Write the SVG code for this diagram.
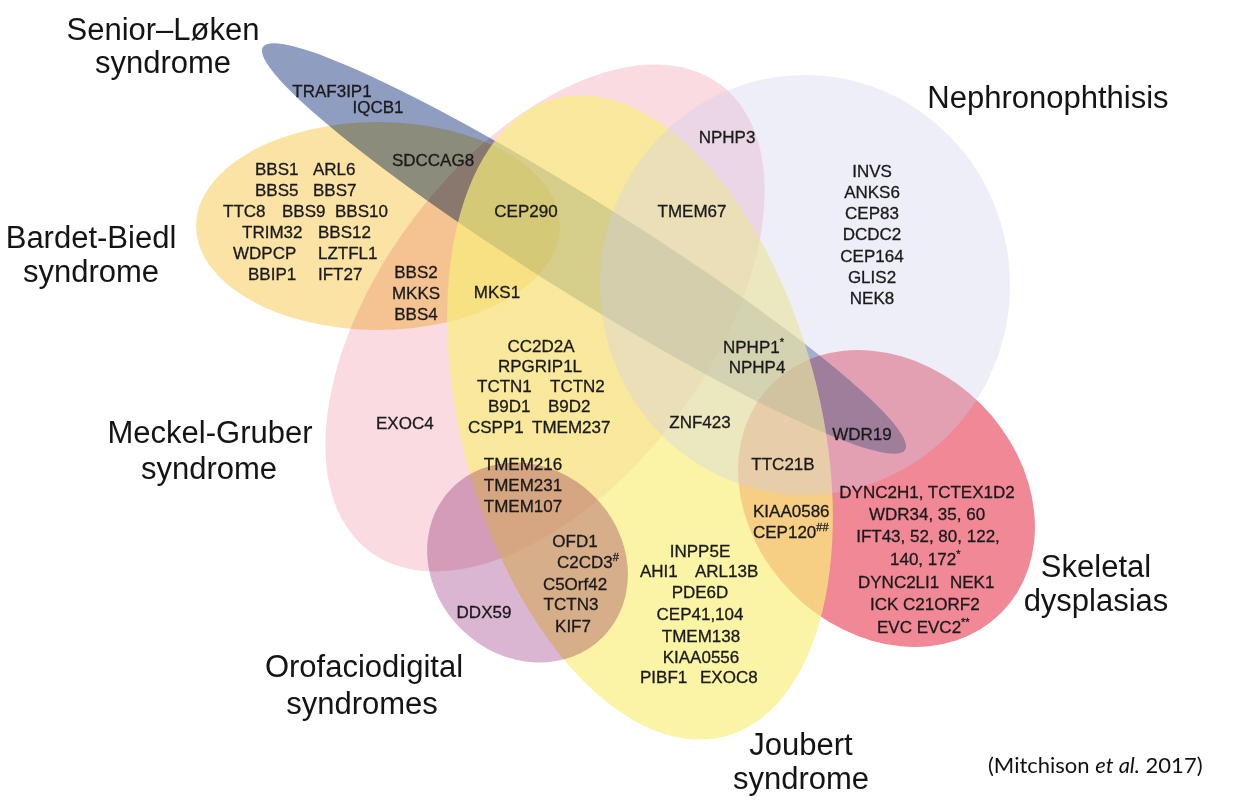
<svg xmlns="http://www.w3.org/2000/svg" width="1235" height="800" viewBox="0 0 1235 800">
<defs>
  <linearGradient id="joubertFill" gradientUnits="userSpaceOnUse" x1="580" y1="95" x2="700" y2="740">
    <stop offset="0" stop-color="#f9ef7c" stop-opacity="0.68"/>
    <stop offset="0.5" stop-color="#f9ef86" stop-opacity="0.6"/>
    <stop offset="1" stop-color="#faf3a4" stop-opacity="0.48"/>
  </linearGradient>
  <style>
    .set { mix-blend-mode: multiply; }
    .title { font-family: "Liberation Sans", Arial, Helvetica, sans-serif; font-size: 31px; fill: #141414; text-anchor: middle; }
    .gene { font-family: "Liberation Sans", Arial, Helvetica, sans-serif; font-size: 17px; fill: #1a1a1a; stroke: #1a1a1a; stroke-width: 0.3px; }
    .c { text-anchor: middle; }
    .sup { font-size: 11px; }
    .cite { font-family: Lato, "Open Sans", sans-serif; font-size: 22px; fill: #111; }
  </style>
</defs>
<rect width="1235" height="800" fill="#ffffff"/>

<!-- syndrome sets: each ellipse with its name -->
<g id="bardet-biedl">
  <ellipse class="set" cx="378" cy="226" rx="182" ry="104" fill="#fbe3a5"/>
  <text class="title" x="91" y="248">Bardet-Biedl</text>
  <text class="title" x="91" y="282">syndrome</text>
</g>
<g id="meckel-gruber">
  <ellipse class="set" cx="0" cy="0" rx="292" ry="165" transform="translate(545 318) rotate(-53)" fill="#f9dbe1"/>
  <text class="title" x="210" y="443">Meckel-Gruber</text>
  <text class="title" x="209" y="479">syndrome</text>
</g>
<g id="skeletal-dysplasias">
  <ellipse class="set" cx="0" cy="0" rx="162" ry="133.5" transform="translate(886.5 498.5) rotate(45)" fill="#f08896"/>
  <text class="title" x="1096" y="577">Skeletal</text>
  <text class="title" x="1096" y="611">dysplasias</text>
</g>
<g id="senior-loken">
  <ellipse class="set" cx="0" cy="0" rx="379" ry="47" transform="translate(584 248.5) rotate(32.1)" fill="#8e9dc0"/>
  <text class="title" x="163" y="40">Senior–Løken</text>
  <text class="title" x="163" y="73">syndrome</text>
</g>
<g id="joubert">
  <ellipse cx="0" cy="0" rx="330" ry="179" transform="translate(640 417.5) rotate(75)" fill="url(#joubertFill)"/>
  <text class="title" x="801" y="755">Joubert</text>
  <text class="title" x="801" y="789">syndrome</text>
</g>
<g id="nephronophthisis">
  <ellipse cx="805" cy="285" rx="205" ry="210" fill="#ceceeb" fill-opacity="0.35"/>
  <text class="title" x="1048" y="108">Nephronophthisis</text>
</g>
<g id="orofaciodigital">
  <ellipse class="set" cx="0" cy="0" rx="106" ry="94" transform="translate(527.5 562.5) rotate(44)" fill="#dab6d3"/>
  <text class="title" x="364" y="677">Orofaciodigital</text>
  <text class="title" x="362" y="714">syndromes</text>
</g>

<!-- gene names placed in their overlap regions -->
<g id="genes" class="gene">
  <text class="c" x="332" y="97">TRAF3IP1</text>
  <text class="c" x="378" y="113">IQCB1</text>
  <text class="c" x="433" y="166">SDCCAG8</text>

  <text x="255" y="175">BBS1</text><text x="313" y="175">ARL6</text>
  <text x="255" y="196">BBS5</text><text x="313" y="196">BBS7</text>
  <text x="223" y="217">TTC8</text><text x="282" y="217">BBS9</text><text x="335" y="217">BBS10</text>
  <text x="242" y="238">TRIM32</text><text x="318" y="238">BBS12</text>
  <text x="233" y="259">WDPCP</text><text x="318" y="259">LZTFL1</text>
  <text x="248" y="280">BBIP1</text><text x="318" y="280">IFT27</text>

  <text class="c" x="416" y="278">BBS2</text>
  <text class="c" x="416" y="299">MKKS</text>
  <text class="c" x="416" y="320">BBS4</text>
  <text class="c" x="497" y="298">MKS1</text>

  <text class="c" x="526" y="217">CEP290</text>
  <text class="c" x="692" y="217">TMEM67</text>
  <text class="c" x="727" y="143">NPHP3</text>

  <text class="c" x="872" y="177">INVS</text>
  <text class="c" x="872" y="198">ANKS6</text>
  <text class="c" x="872" y="219">CEP83</text>
  <text class="c" x="872" y="240">DCDC2</text>
  <text class="c" x="872" y="262">CEP164</text>
  <text class="c" x="872" y="283">GLIS2</text>
  <text class="c" x="872" y="304">NEK8</text>

  <text class="c" x="541" y="352">CC2D2A</text>
  <text class="c" x="540" y="372">RPGRIP1L</text>
  <text x="477" y="392">TCTN1</text><text x="550" y="392">TCTN2</text>
  <text x="488" y="412">B9D1</text><text x="548" y="412">B9D2</text>
  <text x="468" y="433">CSPP1</text><text x="532" y="433">TMEM237</text>
  <text x="376" y="429">EXOC4</text>

  <text x="723" y="353">NPHP1<tspan class="sup" dy="-7">*</tspan></text>
  <text class="c" x="757" y="373">NPHP4</text>
  <text class="c" x="700" y="428">ZNF423</text>
  <text class="c" x="862" y="440">WDR19</text>
  <text class="c" x="783" y="470">TTC21B</text>
  <text x="753" y="517">KIAA0586</text>
  <text x="753" y="538">CEP120<tspan class="sup" dy="-7">##</tspan></text>

  <text class="c" x="927" y="498">DYNC2H1, TCTEX1D2</text>
  <text class="c" x="927" y="520">WDR34, 35, 60</text>
  <text class="c" x="928" y="542">IFT43, 52, 80, 122,</text>
  <text x="890" y="565">140, 172<tspan class="sup" dy="-7">*</tspan></text>
  <text x="858" y="588">DYNC2LI1</text><text x="950" y="588">NEK1</text>
  <text x="870" y="610">ICK C21ORF2</text>
  <text x="877" y="633">EVC EVC2<tspan class="sup" dy="-7">**</tspan></text>

  <text class="c" x="523" y="470">TMEM216</text>
  <text class="c" x="523" y="491">TMEM231</text>
  <text class="c" x="523" y="512">TMEM107</text>
  <text class="c" x="575" y="547">OFD1</text>
  <text x="557" y="568">C2CD3<tspan class="sup" dy="-7">#</tspan></text>
  <text class="c" x="575" y="590">C5Orf42</text>
  <text class="c" x="571" y="610">TCTN3</text>
  <text class="c" x="573" y="632">KIF7</text>
  <text class="c" x="484" y="618">DDX59</text>

  <text class="c" x="700" y="557">INPP5E</text>
  <text x="640" y="577">AHI1</text><text x="695" y="577">ARL13B</text>
  <text class="c" x="700" y="598">PDE6D</text>
  <text class="c" x="700" y="620">CEP41,104</text>
  <text class="c" x="701" y="642">TMEM138</text>
  <text class="c" x="701" y="663">KIAA0556</text>
  <text x="640" y="683">PIBF1</text><text x="700" y="683">EXOC8</text>
</g>

<text class="cite" x="988" y="773">(Mitchison <tspan font-style="italic">et al.</tspan> 2017)</text>
</svg>
